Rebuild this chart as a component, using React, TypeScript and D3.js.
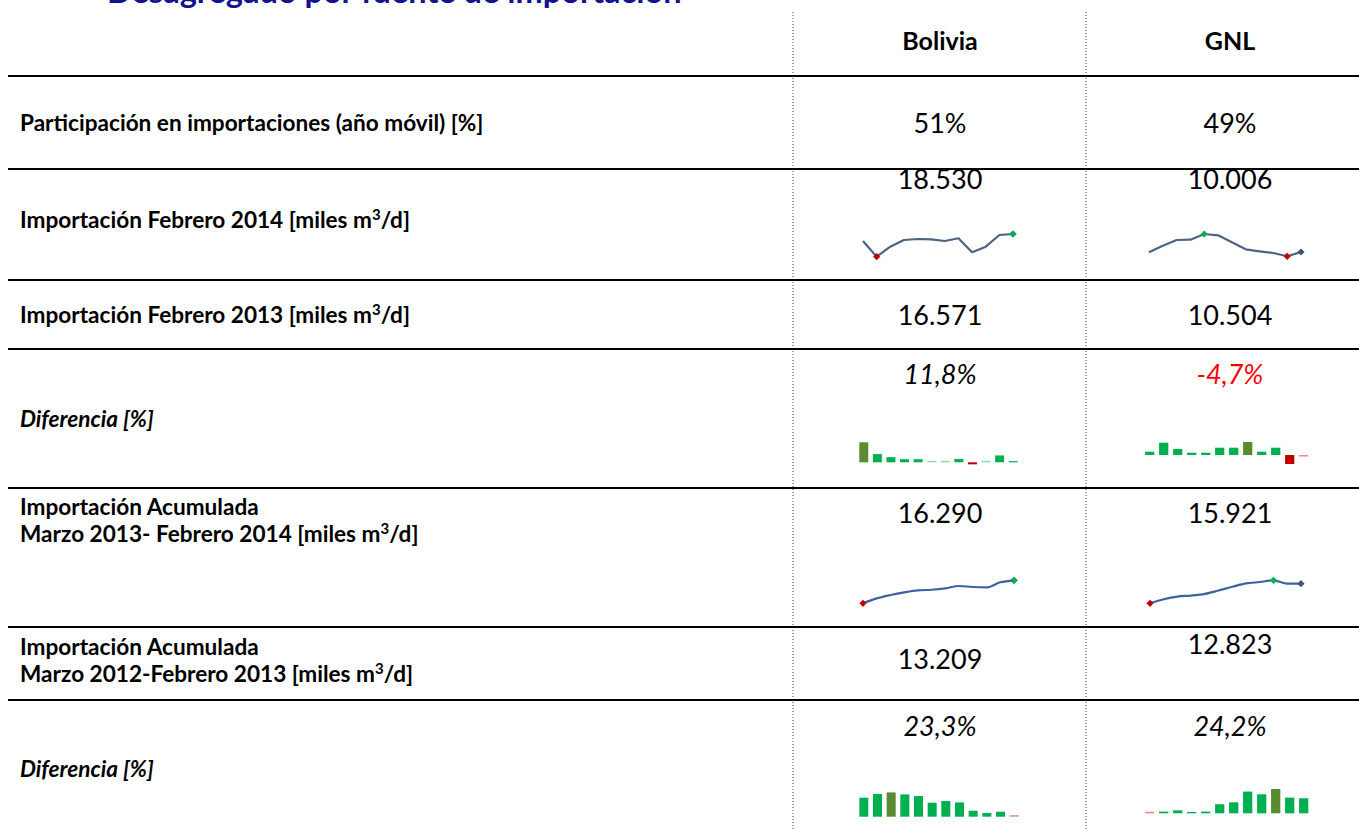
import React from "react";
import * as d3 from "d3";

const columns = ["Bolivia", "GNL"];
const participacion = ["51%", "49%"];
const impFeb2014 = ["18.530", "10.006"];
const impFeb2013 = ["16.571", "10.504"];
const difFeb = ["11,8%", "-4,7%"];
const acum2014 = ["16.290", "15.921"];
const acum2013 = ["13.209", "12.823"];
const difAcum = ["23,3%", "24,2%"];

// monthly sparkline series (miles m3/d), Mar 2013 - Feb 2014
const boliviaMonthly = [17.48, 15.12, 16.63, 17.63, 17.78, 17.73, 17.48, 17.89, 15.79, 16.63, 18.38, 18.53];
const gnlMonthly = [9.95, 11.27, 12.41, 12.47, 13.61, 13.35, 11.95, 10.55, 10.15, 9.81, 9.15, 10.01];
// monthly differences (%)
const boliviaDif = [19.5, 8.0, 5.0, 3.0, 3.0, 0.7, 1.0, 3.3, -2.0, 0.5, 6.7, 1.2];
const gnlDif = [3.3, 12.3, 6.0, 2.3, 2.3, 7.3, 7.3, 13.0, 3.3, 7.3, -9.0, -0.6];
// cumulative series
const boliviaAcum = [13.19, 13.86, 14.31, 14.67, 14.94, 15.02, 15.21, 15.52, 15.39, 15.34, 16.02, 16.29];
const gnlAcum = [12.83, 13.47, 13.89, 14.05, 14.32, 14.85, 15.44, 15.97, 16.19, 16.46, 15.93, 15.921];
// cumulative differences (%)
const boliviaDifAcum = [19.0, 22.7, 24.3, 22.3, 20.7, 14.0, 15.7, 14.3, 6.0, 3.7, 5.0, 0.7];
const gnlDifAcum = [0.5, 1.7, 3.0, 1.3, 1.7, 9.0, 11.0, 21.7, 19.0, 24.3, 15.7, 15.0];

const FONT = "Lato, 'Open Sans', sans-serif";
const GREEN = "#00B050";
const OLIVE = "#5B8A31";
const RED = "#C00000";
const DARK = "#44546A";
const LABEL_SIZE = 22.6;

function Diamond({ x, y, fill }: { x: number; y: number; fill: string }) {
  const s = 3.6;
  return <path d={`M${x},${y - s}L${x + s},${y}L${x},${y + s}L${x - s},${y}Z`} fill={fill} />;
}

function LineSpark({ data, x0, x1, yTop, yBottom, color, smooth }: { data: number[]; x0: number; x1: number; yTop: number; yBottom: number; color: string; smooth?: boolean }) {
  const x = d3.scaleLinear().domain([0, data.length - 1]).range([x0, x1]);
  const ext = d3.extent(data) as [number, number];
  const y = d3.scaleLinear().domain(ext).range([yBottom, yTop]);
  const line = d3
    .line<number>()
    .x((_, i) => x(i))
    .y((d) => y(d))
    .curve(smooth ? d3.curveMonotoneX : d3.curveLinear);
  const iMax = d3.maxIndex(data);
  const iMin = d3.minIndex(data);
  const last = data.length - 1;
  return (
    <g>
      <path d={line(data) || ""} fill="none" stroke={color} strokeWidth={2.2} strokeLinejoin="round" />
      <Diamond x={x(last)} y={y(data[last])} fill={DARK} />
      <Diamond x={x(iMin)} y={y(data[iMin])} fill={RED} />
      <Diamond x={x(iMax)} y={y(data[iMax])} fill={GREEN} />
    </g>
  );
}

function BarSpark({ data, x0, x1, baseline, maxH }: { data: number[]; x0: number; x1: number; baseline: number; maxH: number }) {
  const x = d3.scaleBand<number>().domain(data.map((_, i) => i)).range([x0, x1]).paddingInner(0.34).paddingOuter(0.17);
  const mx = d3.max(data) as number;
  const y = d3.scaleLinear().domain([0, mx]).range([baseline, baseline - maxH]);
  const iMax = d3.maxIndex(data);
  const iMin = d3.minIndex(data);
  return (
    <g>
      {data.map((d, i) => {
        const yy = y(d);
        let top = Math.min(yy, baseline);
        let h = Math.abs(yy - baseline);
        let op = 1;
        if (h < 1.2) {
          op = 0.45;
          h = 1.5;
          top = d >= 0 ? baseline - 1.5 : baseline;
        }
        const fill = i === iMax ? OLIVE : d < 0 || i === iMin ? RED : GREEN;
        return <rect key={i} x={x(i)} y={top} width={x.bandwidth()} height={h} fill={fill} opacity={op} />;
      })}
    </g>
  );
}

function Label({ x, y, lines, italic }: { x: number; y: number; lines: string[]; italic?: boolean }) {
  return (
    <text x={x} y={y} fontFamily={FONT} fontWeight="bold" fontSize={LABEL_SIZE} fontStyle={italic ? "italic" : "normal"} fill="#000">
      {lines.map((l, i) => {
        const parts = l.split("m3/d");
        return (
          <tspan key={i} x={x} dy={i === 0 ? 0 : 27}>
            {parts.length > 1 ? (
              <>
                {parts[0]}m<tspan dy={-8} fontSize={15}>3</tspan>
                <tspan dy={8}>/d</tspan>
                {parts[1]}
              </>
            ) : (
              l
            )}
          </tspan>
        );
      })}
    </text>
  );
}

export default function App() {
  const W = 1359;
  const H = 829;
  const cx = [940, 1230];
  const hLines = [76, 169, 280, 349, 488, 627, 700];
  const valStyle = { fontFamily: FONT, fontSize: 27, textAnchor: "middle" as const };
  return (
    <svg width={W} height={H} style={{ position: "absolute", left: 0, top: 0, background: "#fff" }}>
      <text x={107} y={3} fontFamily={FONT} fontWeight="bold" fontSize={32.5} fill="#131390">
        Desagregado por fuente de importación
      </text>
      {[793, 1086].map((x) => (
        <line key={x} x1={x} x2={x} y1={12} y2={H} stroke="#444" strokeWidth={1} strokeDasharray="1,2" />
      ))}
      {hLines.map((y) => (
        <line key={y} x1={8} x2={W} y1={y} y2={y} stroke="#000" strokeWidth={2} />
      ))}
      {columns.map((c, i) => (
        <text key={c} x={cx[i]} y={50} fontFamily={FONT} fontWeight="bold" fontSize={25} textAnchor="middle">
          {c}
        </text>
      ))}

      <Label x={20} y={131} lines={["Participación en importaciones (año móvil) [%]"]} />
      <Label x={20} y={228} lines={["Importación Febrero 2014 [miles m3/d]"]} />
      <Label x={20} y={323} lines={["Importación Febrero 2013 [miles m3/d]"]} />
      <Label x={20} y={427} lines={["Diferencia [%]"]} italic />
      <Label x={20} y={515} lines={["Importación Acumulada", "Marzo 2013- Febrero 2014 [miles m3/d]"]} />
      <Label x={20} y={655} lines={["Importación Acumulada", "Marzo 2012-Febrero 2013  [miles m3/d]"]} />
      <Label x={20} y={777} lines={["Diferencia [%]"]} italic />

      {columns.map((c, i) => (
        <g key={c}>
          <text {...valStyle} x={cx[i]} y={133}>{participacion[i]}</text>
          <text {...valStyle} x={cx[i]} y={189}>{impFeb2014[i]}</text>
          <text {...valStyle} x={cx[i]} y={325}>{impFeb2013[i]}</text>
          <text {...valStyle} x={cx[i]} y={384} fontStyle="italic" fill={difFeb[i].startsWith("-") ? "#FF0000" : "#000"}>{difFeb[i]}</text>
          <text {...valStyle} x={cx[i]} y={523}>{acum2014[i]}</text>
          <text {...valStyle} x={cx[i]} y={i === 0 ? 669 : 654}>{acum2013[i]}</text>
          <text {...valStyle} x={cx[i]} y={736} fontStyle="italic" fill={difAcum[i].startsWith("-") ? "#FF0000" : "#000"}>{difAcum[i]}</text>
        </g>
      ))}

      <LineSpark data={boliviaMonthly} x0={863} x1={1013} yTop={234} yBottom={256.7} color="#4E6484" />
      <LineSpark data={gnlMonthly} x0={1149} x1={1301} yTop={234} yBottom={256.3} color="#4E6484" />
      <BarSpark data={boliviaDif} x0={857} x1={1020} baseline={462.3} maxH={20} />
      <BarSpark data={gnlDif} x0={1142.7} x1={1310.7} baseline={455} maxH={13} />
      <LineSpark data={boliviaAcum} x0={863} x1={1014} yTop={580.3} yBottom={603.3} color="#3D62A0" smooth />
      <LineSpark data={gnlAcum} x0={1150} x1={1301} yTop={580.3} yBottom={603.3} color="#3D62A0" smooth />
      <BarSpark data={boliviaDifAcum} x0={857} x1={1021} baseline={816.7} maxH={24.3} />
      <BarSpark data={gnlDifAcum} x0={1142.7} x1={1310.7} baseline={813.3} maxH={24.3} />
    </svg>
  );
}
